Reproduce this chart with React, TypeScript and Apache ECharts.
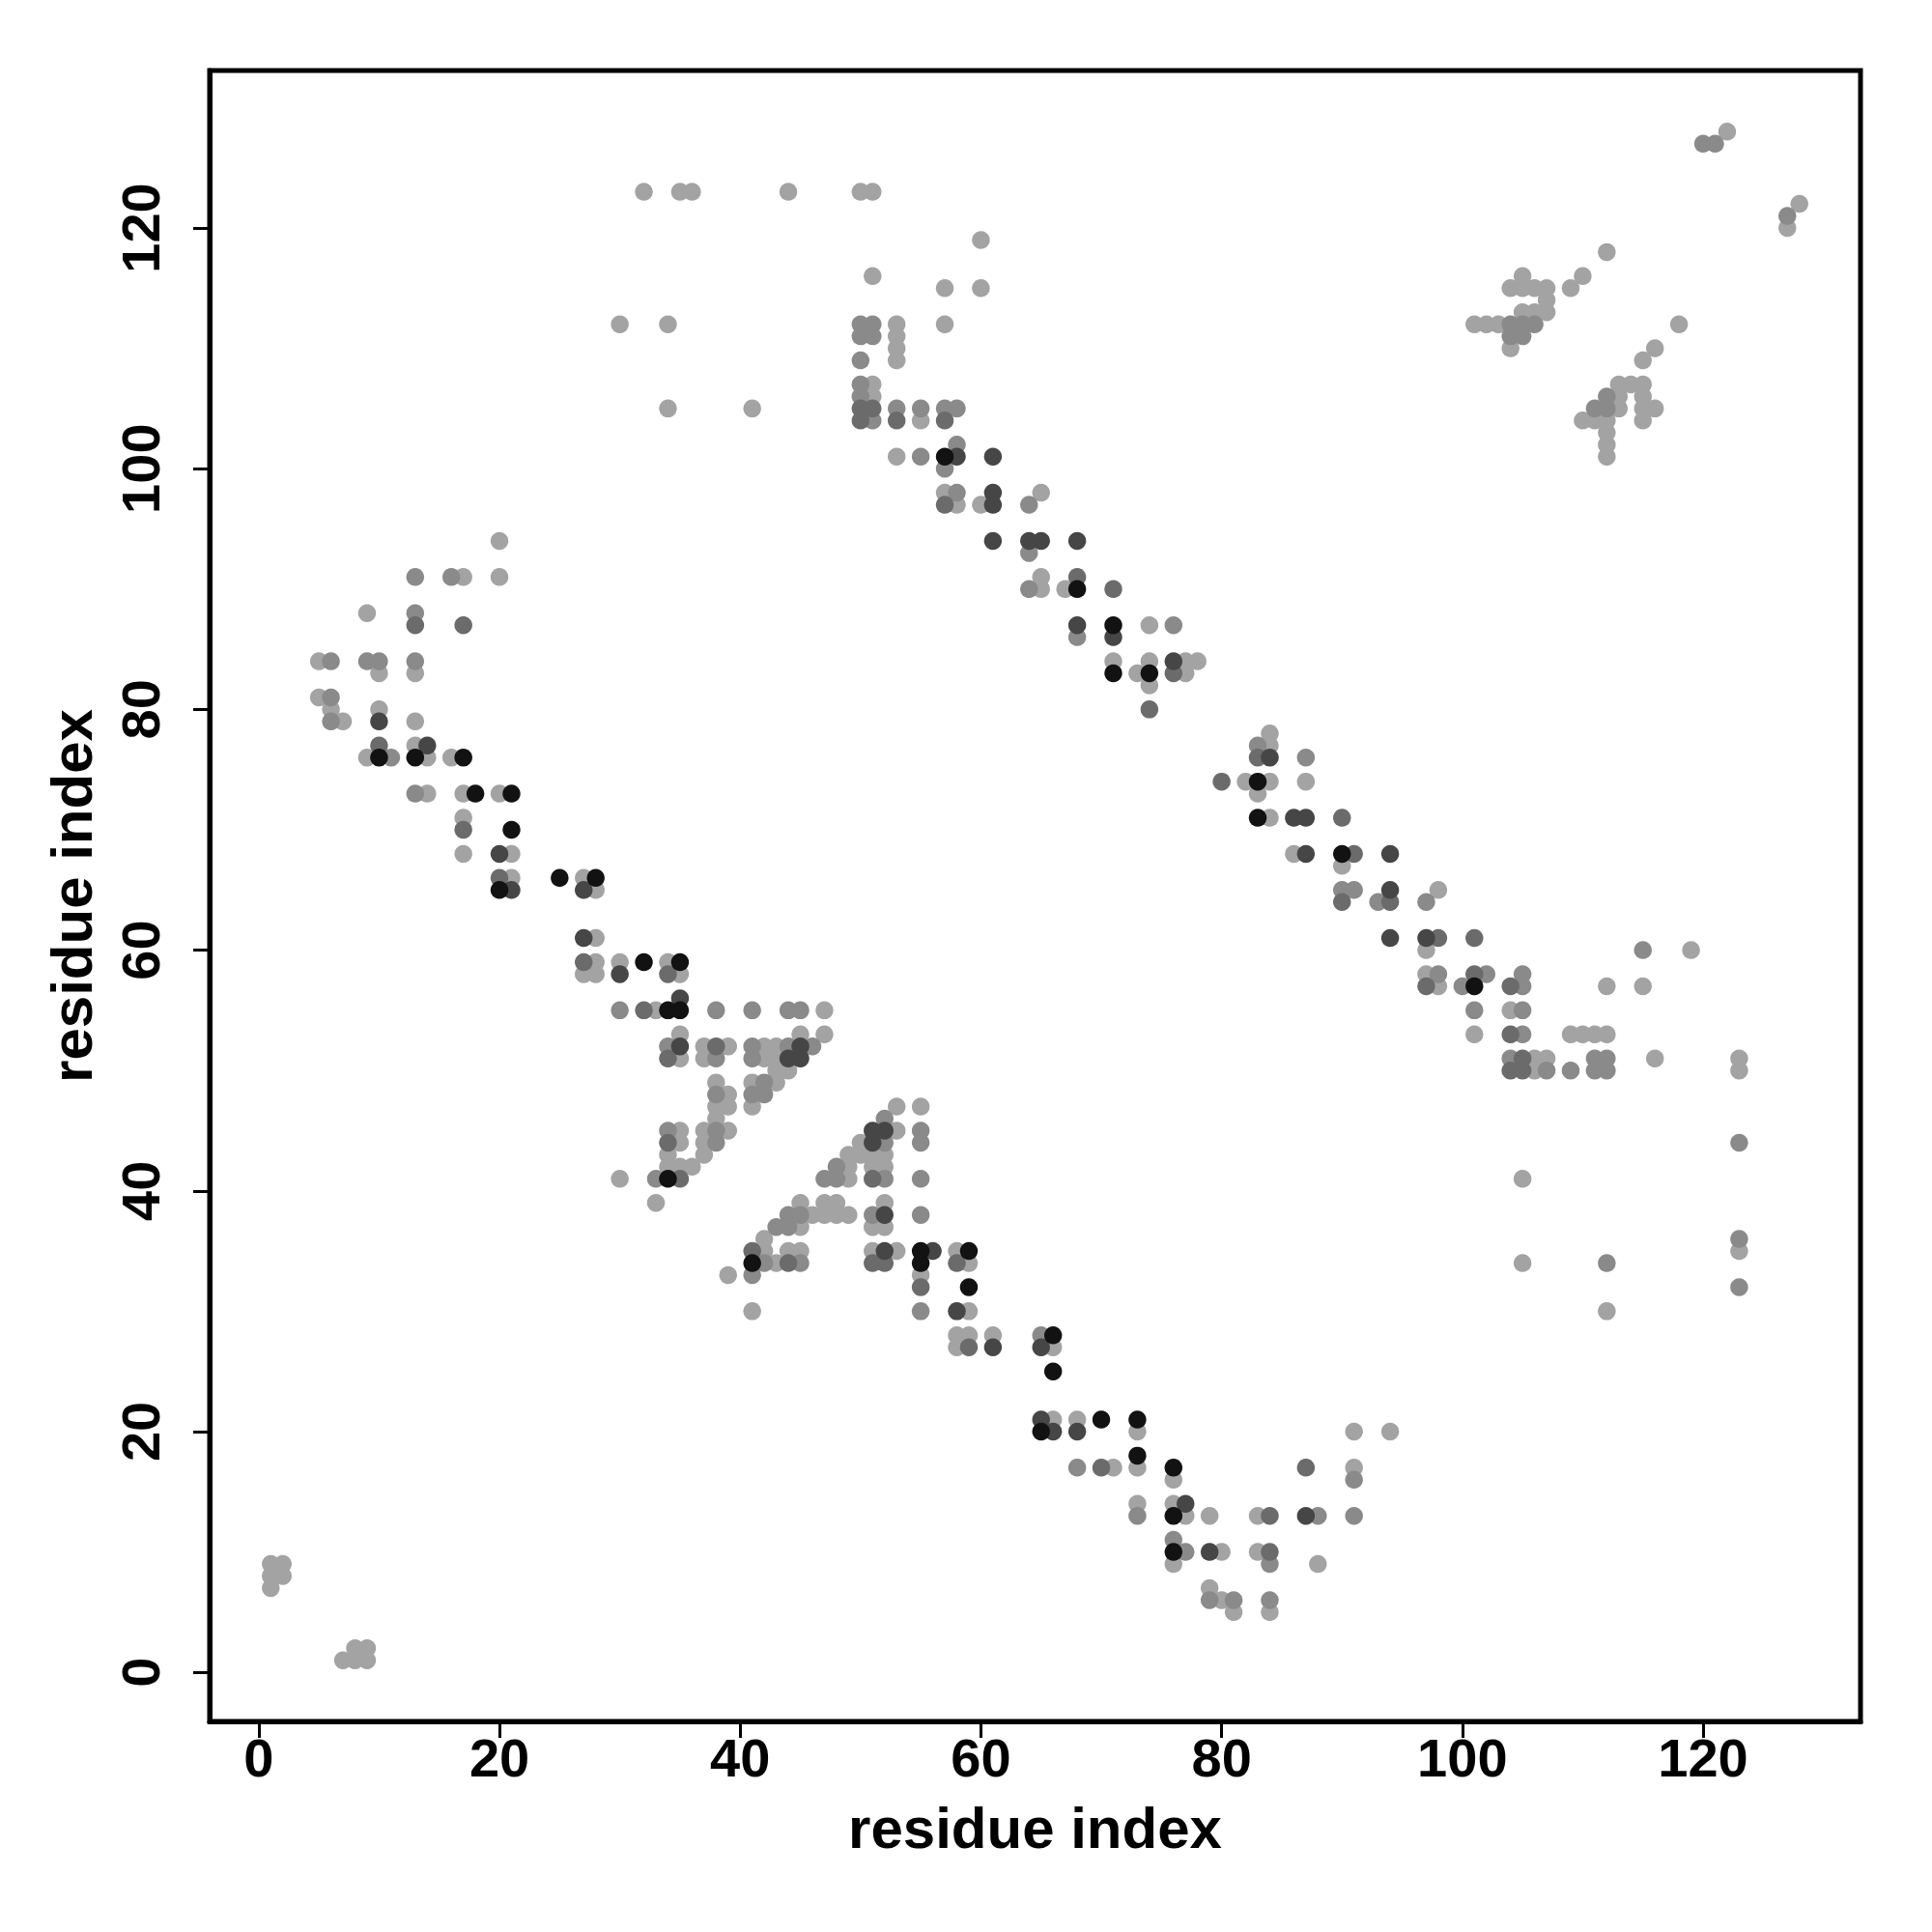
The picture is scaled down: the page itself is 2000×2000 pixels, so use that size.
import React, { useEffect, useRef } from "react";
import * as echarts from "echarts";

// Residue contact pairs grouped by shade (light -> black)
const shade1: number[][] = [
  [1,9],[2,9],[1,8],[2,8],[1,7],[8,2],[9,2],[7,1],[8,1],[9,1],
  [20,94],[17,91],[20,91],[9,88],[5,84],[10,83],[13,83],[5,81],[6,80],[7,79],[10,80],[13,79],
  [9,76],[13,77],[14,76],[16,76],[14,73],[17,73],[20,73],[17,71],[17,68],[21,68],[21,66],
  [27,66],[28,65],[28,61],[28,59],[27,58],[28,58],[30,59],[34,59],[35,58],[33,55],[47,55],
  [35,53],[45,53],[47,53],[37,52],[39,52],[42,52],[43,52],[35,51],[37,51],[42,51],[43,51],
  [43,50],[44,50],[38,49],[41,49],[43,49],[39,48],[38,47],[39,47],[41,47],[53,47],[55,47],
  [38,46],[35,45],[37,45],[39,45],[53,45],[35,44],[37,44],[50,44],[34,43],[37,43],[49,43],
  [50,43],[51,43],[52,43],[34,42],[35,42],[36,42],[49,42],[51,42],[52,42],[30,41],[49,41],
  [33,39],[45,39],[47,39],[48,39],[52,39],[46,38],[47,38],[48,38],[49,38],[45,37],[51,37],
  [52,37],[42,36],[42,35],[44,35],[45,35],[51,35],[53,35],[58,35],[43,34],[59,34],[39,33],
  [55,33],[41,30],[59,30],[58,28],[59,28],[61,28],[58,27],[66,27],[66,21],[68,21],[73,20],
  [71,17],[73,17],[76,16],[73,14],[76,14],[77,13],[79,13],[83,13],[91,17],[91,20],[94,20],
  [76,9],[80,10],[83,10],[88,9],[79,7],[80,6],[81,5],[84,5],
  [32,123],[35,123],[36,123],[44,123],[50,123],[51,123],[60,119],[51,116],[57,115],[60,115],
  [30,112],[34,112],[53,112],[57,112],[53,111],[53,110],[53,109],[51,107],[51,106],[55,104],
  [34,105],[41,105],[53,101],[57,98],[58,97],[60,97],[65,98],[65,91],[65,90],[67,90],
  [74,87],[71,84],[73,83],[74,84],[74,82],[77,84],[78,84],[77,83],
  [84,78],[84,77],[82,74],[84,74],[83,73],[87,74],[84,71],[86,68],[90,67],[98,65],[97,60],
  [97,58],[98,57],[104,55],[101,53],[109,53],[110,53],[111,53],[112,53],[119,60],[112,57],
  [115,57],[106,51],[107,51],[106,50],[116,51],[123,51],[123,50],[105,41],[123,35],[105,34],
  [112,30],
  [122,128],[128,122],[127,120],[112,118],[110,116],[109,115],[105,116],[104,115],[105,115],
  [106,115],[107,115],[107,114],[105,113],[106,113],[107,113],[101,112],[102,112],[103,112],
  [104,110],[118,112],[116,110],[115,109],[113,107],[114,107],[115,107],[113,106],[115,106],
  [113,105],[115,105],[116,105],[110,104],[111,104],[112,104],[115,104],[112,103],[112,102],
  [112,101]
];

const shade2: number[][] = [
  [13,91],[16,91],[13,88],[6,84],[9,84],[10,84],[13,84],[6,81],[6,79],[11,76],[13,73],
  [30,55],[38,55],[41,55],[44,55],[45,55],[34,52],[41,52],[44,52],[46,52],[38,51],[41,51],
  [42,49],[38,48],[41,48],[42,48],[52,46],[34,45],[38,45],[55,45],[38,44],[52,44],[55,44],
  [48,42],[33,41],[47,41],[48,41],[52,41],[55,41],[44,38],[45,38],[51,38],[55,38],[43,37],
  [44,37],[42,34],[45,34],[41,33],[55,30],[65,28],[68,17],[73,13],[88,13],[91,13],[91,16],
  [76,11],[77,10],[84,9],[79,6],[81,6],[84,6],
  [50,112],[51,112],[50,111],[51,111],[50,109],[50,107],[50,106],[51,104],[53,105],[55,105],
  [57,105],[58,105],[58,102],[55,101],[57,100],[58,98],[64,97],[64,93],[64,90],[68,86],[76,87],
  [83,77],[87,76],[90,65],[91,65],[93,64],[97,64],[98,58],[100,57],[102,58],[105,58],[105,57],
  [101,55],[105,55],[105,53],[115,60],[104,51],[107,50],[109,50],[111,51],[112,51],[111,50],
  [112,50],[123,44],[123,36],[123,32],[112,34],
  [120,127],[121,127],[127,121],[104,112],[105,112],[106,112],[104,111],[105,111],[112,106],
  [111,105],[112,105]
];

const shade3: number[][] = [
  [13,87],[17,87],[10,77],[17,70],[20,66],[27,59],[34,58],[32,55],[38,52],[34,51],[34,44],
  [35,41],[51,41],[41,35],[44,34],[51,34],[52,34],[58,34],[55,32],[59,27],[70,17],[84,13],
  [87,17],[84,10],
  [50,105],[51,105],[50,104],[53,104],[57,104],[57,97],[68,91],[71,90],[76,83],[74,80],
  [83,76],[80,74],[90,71],[91,68],[90,64],[94,64],[98,61],[101,61],[97,57],[101,58],[104,57],
  [104,53],[105,51],[104,50],[105,50]
];

const shade4: number[][] = [
  [10,79],[14,77],[20,68],[21,65],[27,65],[27,61],[30,58],[35,56],[35,52],[45,52],[44,51],
  [45,51],[51,45],[52,45],[51,44],[52,38],[52,35],[56,35],[58,30],[61,27],[65,27],[65,21],
  [66,20],[68,20],[77,14],[87,13],[79,10],
  [58,101],[61,101],[61,98],[61,97],[61,94],[64,94],[65,94],[68,94],[68,87],[71,86],[76,84],
  [84,76],[86,71],[87,71],[87,68],[94,68],[94,65],[94,61],[97,61]
];

const shade5: number[][] = [
  [10,76],[13,76],[17,76],[18,73],[21,73],[21,70],[20,65],[25,66],[28,66],[32,59],[35,59],
  [34,55],[35,55],[34,41],[55,35],[59,35],[41,34],[55,34],[59,32],[66,28],[66,25],[65,20],
  [70,21],[73,21],[73,18],[76,17],[76,13],[76,10],
  [57,101],[68,90],[71,87],[71,83],[74,83],[83,74],[83,71],[90,68],[101,57]
];

const shadeColors = ["#a3a3a3", "#8a8a8a", "#6b6b6b", "#464646", "#121212"];
const tickValues = [0, 20, 40, 60, 80, 100, 120];
const axisTitle = "residue index";

export default function App() {
  const ref = useRef<HTMLDivElement>(null);
  useEffect(() => {
    if (!ref.current) return;
    const chart = echarts.init(ref.current, null, { renderer: "svg" });
    const font = "Liberation Sans, Arial, Helvetica, sans-serif";
    const axisCommon = (isY: boolean) => ({
      type: "value",
      min: -4.08,
      max: 133.08,
      name: axisTitle,
      nameLocation: "middle",
      nameGap: isY ? 113 : 80,
      nameTextStyle: { fontSize: 60, fontWeight: "bold", fontFamily: font, color: "#000" },
      axisLine: { show: true, onZero: false, lineStyle: { color: "#000", width: 5 } },
      axisTick: {
        show: true,
        inside: false,
        length: 17,
        lineStyle: { color: "#000", width: 3 },
        customValues: tickValues,
      },
      axisLabel: {
        show: true,
        customValues: tickValues,
        fontSize: 56,
        fontWeight: "bold",
        fontFamily: font,
        color: "#000",
        margin: isY ? 44 : 9,
        rotate: isY ? 90 : 0,
      },
      splitLine: { show: false },
    });
    const sets = [shade1, shade2, shade3, shade4, shade5];
    chart.setOption({
      animation: false,
      backgroundColor: "#ffffff",
      grid: {
        left: 217,
        top: 73,
        width: 1709,
        height: 1709,
        show: true,
        borderColor: "#000",
        borderWidth: 5,
        backgroundColor: "transparent",
      },
      xAxis: axisCommon(false),
      yAxis: axisCommon(true),
      series: sets.map((d, i) => ({
        type: "scatter",
        data: d,
        symbol: "circle",
        symbolSize: 18.5,
        itemStyle: { color: shadeColors[i], opacity: 1 },
        silent: true,
        z: 2 + i,
      })),
    });
    return () => chart.dispose();
  }, []);
  return (
    <div
      ref={ref}
      style={{ position: "absolute", left: 0, top: 0, width: 2000, height: 2000 }}
    />
  );
}
